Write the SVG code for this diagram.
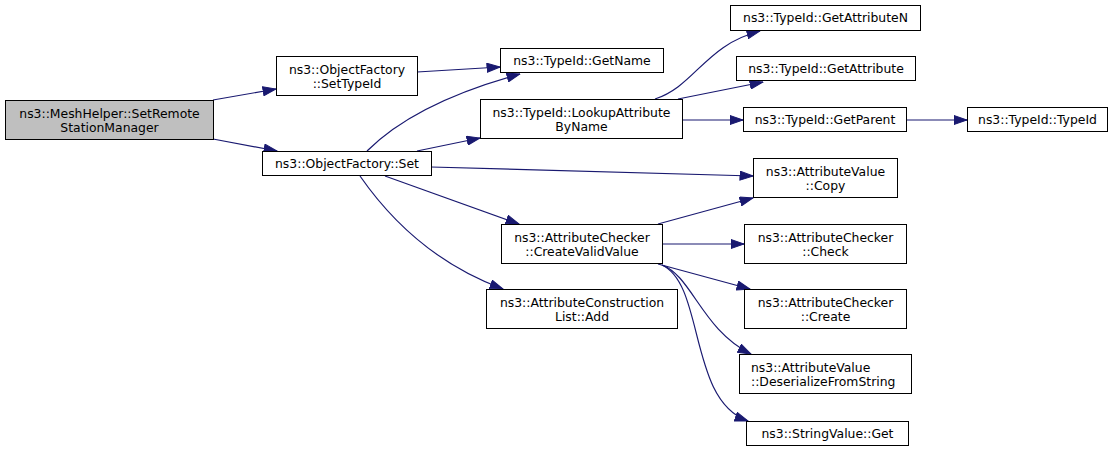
<svg xmlns="http://www.w3.org/2000/svg" width="1112" height="452" viewBox="0 0 1112 452">
<style>
.n rect{fill:#fff;stroke:#000;stroke-width:1}
.n.root rect{fill:#bfbfbf}
.n text{font-family:"DejaVu Sans",sans-serif;font-size:12.4px;fill:#000;text-anchor:middle}
.n text.l{text-anchor:start}
.e path{fill:none;stroke:#191970;stroke-width:1.2;marker-end:url(#ah)}
</style>
<defs>
<marker id="ah" markerUnits="userSpaceOnUse" markerWidth="14" markerHeight="10" refX="13.5" refY="5" orient="auto" viewBox="0 0 14 10">
<path d="M0.5,0.5 L13.5,5 L0.5,9.5 z" fill="#191970" stroke="#191970" stroke-width="1"/>
</marker>
</defs>
<rect width="1112" height="452" fill="#fff"/>
<g id="edges" class="e">
<path d="M213,100 L276,89"/>
<path d="M213,139 L277,151"/>
<path d="M417,72 L500,67"/>
<path d="M367,151 C390,128 432,98 520,74"/>
<path d="M417,151 L480,138"/>
<path d="M431,167 L753,176"/>
<path d="M385,176 L519,224"/>
<path d="M360,176 C385,212 430,262 503,289"/>
<path d="M655,99 C695,86 705,45 760,31"/>
<path d="M678,99 L763,82"/>
<path d="M682,120 L743,120"/>
<path d="M906,120 L967,120"/>
<path d="M658,224 L753,198"/>
<path d="M662,244 L744,244"/>
<path d="M658,264 L750,289"/>
<path d="M662,265 C692,276 702,330 751,354"/>
<path d="M662,265 C705,285 688,400 748,421"/>
</g>
<g id="n1" class="n root"><rect x="5.5" y="100.5" width="208" height="39"/><text x="109.5" y="118">ns3::MeshHelper::SetRemote</text><text x="109.5" y="132">StationManager</text></g>
<g id="n2" class="n"><rect x="276.5" y="56.5" width="141" height="39"/><text x="347" y="74">ns3::ObjectFactory</text><text x="347" y="88">::SetTypeId</text></g>
<g id="n3" class="n"><rect x="262.5" y="151.5" width="169" height="24"/><text x="347" y="168">ns3::ObjectFactory::Set</text></g>
<g id="n4" class="n"><rect x="500.5" y="48.5" width="163" height="24"/><text x="582" y="65">ns3::TypeId::GetName</text></g>
<g id="n5" class="n"><rect x="480.5" y="99.5" width="202" height="39"/><text x="581.5" y="117">ns3::TypeId::LookupAttribute</text><text x="581.5" y="131">ByName</text></g>
<g id="n6" class="n"><rect x="730.5" y="5.5" width="190" height="25"/><text x="825.5" y="22">ns3::TypeId::GetAttributeN</text></g>
<g id="n7" class="n"><rect x="736.5" y="56.5" width="179" height="24"/><text x="826" y="73">ns3::TypeId::GetAttribute</text></g>
<g id="n8" class="n"><rect x="743.5" y="107.5" width="163" height="24"/><text x="825" y="124">ns3::TypeId::GetParent</text></g>
<g id="n9" class="n"><rect x="967.5" y="107.5" width="140" height="24"/><text x="1037.5" y="124">ns3::TypeId::TypeId</text></g>
<g id="n10" class="n"><rect x="753.5" y="158.5" width="144" height="39"/><text x="825.5" y="176">ns3::AttributeValue</text><text x="825.5" y="190">::Copy</text></g>
<g id="n11" class="n"><rect x="744.5" y="224.5" width="162" height="39"/><text x="825.5" y="242">ns3::AttributeChecker</text><text x="825.5" y="256">::Check</text></g>
<g id="n12" class="n"><rect x="501.5" y="224.5" width="161" height="39"/><text x="582" y="242">ns3::AttributeChecker</text><text x="582" y="256">::CreateValidValue</text></g>
<g id="n13" class="n"><rect x="486.5" y="289.5" width="191" height="39"/><text x="582" y="307">ns3::AttributeConstruction</text><text x="582" y="321">List::Add</text></g>
<g id="n14" class="n"><rect x="744.5" y="289.5" width="162" height="39"/><text x="825.5" y="307">ns3::AttributeChecker</text><text x="825.5" y="321">::Create</text></g>
<g id="n15" class="n"><rect x="739.5" y="354.5" width="172" height="39"/><text class="l" x="751" y="372">ns3::AttributeValue</text><text class="l" x="751" y="386">::DeserializeFromString</text></g>
<g id="n16" class="n"><rect x="746.5" y="421.5" width="162" height="24"/><text x="827.5" y="438">ns3::StringValue::Get</text></g>
</svg>
